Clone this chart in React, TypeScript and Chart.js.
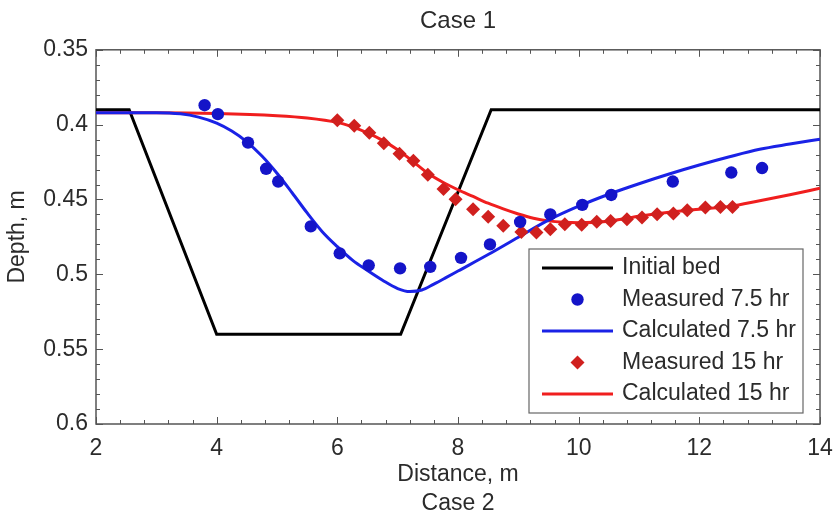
import React, { useEffect, useRef } from "react";
import { Chart, registerables } from "chart.js";

Chart.register(...registerables);

// ---------- data ----------
const bedDistance = [2, 2.55, 4, 7.05, 8.55, 14];
const bedDepth = [0.39, 0.39, 0.54, 0.54, 0.39, 0.39];

const meas75Distance = [3.8, 4.02, 4.52, 4.82, 5.02, 5.56, 6.04, 6.52, 7.04, 7.54, 8.05, 8.53, 9.03, 9.53, 10.06, 10.54, 11.56, 12.53, 13.04];
const meas75Depth = [0.387, 0.393, 0.412, 0.4295, 0.438, 0.468, 0.486, 0.494, 0.496, 0.495, 0.489, 0.48, 0.465, 0.46, 0.4536, 0.447, 0.438, 0.432, 0.429];

const calc75Distance = [2, 3, 3.4, 3.7, 4, 4.25, 4.5, 4.75, 5, 5.25, 5.5, 5.75, 6, 6.25, 6.5, 6.75, 7, 7.2, 7.4, 7.6, 7.8, 8, 8.5, 9, 9.5, 10, 10.5, 11, 11.5, 12, 12.5, 13, 13.5, 14];
const calc75Depth = [0.392, 0.392, 0.3928, 0.395, 0.399, 0.4043, 0.4115, 0.421, 0.4325, 0.4455, 0.459, 0.4715, 0.4815, 0.4905, 0.4975, 0.504, 0.5095, 0.5115, 0.5105, 0.5065, 0.5022, 0.4978, 0.4868, 0.4752, 0.4638, 0.4545, 0.4465, 0.4395, 0.433, 0.427, 0.4215, 0.4165, 0.413, 0.4097];

const meas15Distance = [6.0, 6.28, 6.53, 6.77, 7.03, 7.26, 7.5, 7.76, 7.96, 8.25, 8.5, 8.75, 9.05, 9.3, 9.53, 9.77, 10.05, 10.3, 10.53, 10.8, 11.05, 11.3, 11.57, 11.8, 12.1, 12.35, 12.55];
const meas15Depth = [0.397, 0.4008, 0.4055, 0.4125, 0.4195, 0.4242, 0.4335, 0.443, 0.4498, 0.4565, 0.4616, 0.4676, 0.4718, 0.4721, 0.4699, 0.4665, 0.4668, 0.4648, 0.4643, 0.4632, 0.462, 0.4598, 0.4594, 0.4572, 0.4554, 0.455, 0.455];

const calc15Distance = [2, 3, 4, 5, 5.5, 6, 6.25, 6.5, 6.75, 7, 7.25, 7.5, 7.75, 8, 8.25, 8.5, 8.75, 9, 9.25, 9.5, 9.75, 10, 10.5, 11, 11.5, 12, 12.5, 13, 13.5, 14];
const calc15Depth = [0.392, 0.392, 0.3925, 0.394, 0.3955, 0.3985, 0.4015, 0.4055, 0.4105, 0.4168, 0.4245, 0.4325, 0.4385, 0.4435, 0.448, 0.4525, 0.4563, 0.4597, 0.4625, 0.4643, 0.4652, 0.4655, 0.4645, 0.4612, 0.4585, 0.4565, 0.4546, 0.4508, 0.4468, 0.4425];

const seriesLabels = ["Initial bed", "Measured 7.5 hr", "Calculated 7.5 hr", "Measured 15 hr", "Calculated 15 hr"];
const chartTitle = "Case 1";
const xTitle = ["Distance, m", "Case 2"];
const yTitle = "Depth, m";

const xMin = 2, xMax = 14, xStep = 2, xMinor = 0.4;
const yMin = 0.35, yMax = 0.6, yStep = 0.05, yMinor = 0.01;

// ---------- styles ----------
const FONT = "'Liberation Sans', Arial, Helvetica, sans-serif";
const TEXT = "#2b2b2b";
const AXIS = "#555555";

const pts = (xs: number[], ys: number[]) => xs.map((x, i) => ({ x, y: ys[i] }));

const frameTicks = {
  id: "frameTicks",
  beforeDatasetsDraw(chart: any) {
    const { ctx, chartArea: a, scales } = chart;
    const x = scales.x, y = scales.y;
    ctx.save();
    ctx.strokeStyle = AXIS;
    ctx.lineWidth = 1;
    const nx = Math.round((xMax - xMin) / xMinor);
    const perX = Math.round(xStep / xMinor);
    for (let i = 0; i <= nx; i++) {
      const px = Math.round(x.getPixelForValue(xMin + i * xMinor)) + 0.5;
      const len = i % perX === 0 ? 7 : 4;
      ctx.beginPath();
      ctx.moveTo(px, a.bottom); ctx.lineTo(px, a.bottom - len);
      ctx.moveTo(px, a.top); ctx.lineTo(px, a.top + len);
      ctx.stroke();
    }
    const ny = Math.round((yMax - yMin) / yMinor);
    const perY = Math.round(yStep / yMinor);
    for (let i = 0; i <= ny; i++) {
      const py = Math.round(y.getPixelForValue(yMin + i * yMinor)) + 0.5;
      const len = i % perY === 0 ? 7 : 4;
      ctx.beginPath();
      ctx.moveTo(a.left, py); ctx.lineTo(a.left + len, py);
      ctx.moveTo(a.right, py); ctx.lineTo(a.right - len, py);
      ctx.stroke();
    }
    ctx.lineWidth = 1.5;
    ctx.strokeRect(a.left, a.top, a.right - a.left, a.bottom - a.top);
    ctx.restore();
  },
};

const boxLegend = {
  id: "boxLegend",
  afterDraw(chart: any) {
    const { ctx, chartArea: a } = chart;
    const w = 274, h = 164;
    const right = a.right - 17, bottom = a.bottom - 11;
    const left = right - w, top = bottom - h;
    ctx.save();
    ctx.fillStyle = "#ffffff";
    ctx.fillRect(left, top, w, h);
    ctx.strokeStyle = "#666666";
    ctx.lineWidth = 1.2;
    ctx.strokeRect(left, top, w, h);
    const rowH = 31.5;
    ctx.font = `23px ${FONT}`;
    ctx.textBaseline = "middle";
    ctx.textAlign = "left";
    chart.data.datasets.forEach((ds: any, i: number) => {
      const cy = top + 19 + i * rowH;
      const x0 = left + 13, x1 = left + 84;
      if (ds.showLine !== false) {
        ctx.strokeStyle = ds.borderColor;
        ctx.lineWidth = ds.borderWidth;
        ctx.beginPath();
        ctx.moveTo(x0, cy); ctx.lineTo(x1, cy);
        ctx.stroke();
      } else {
        const cx = (x0 + x1) / 2;
        ctx.fillStyle = ds.backgroundColor;
        ctx.beginPath();
        if (ds.pointStyle === "rectRot") {
          const r = ds.pointRadius;
          ctx.moveTo(cx, cy - r); ctx.lineTo(cx + r, cy); ctx.lineTo(cx, cy + r); ctx.lineTo(cx - r, cy);
          ctx.closePath();
        } else {
          ctx.arc(cx, cy, ds.pointRadius, 0, Math.PI * 2);
        }
        ctx.fill();
      }
      ctx.fillStyle = TEXT;
      ctx.fillText(ds.label, left + 93, cy);
    });
    ctx.restore();
  },
};

export default function App() {
  const ref = useRef<HTMLCanvasElement | null>(null);
  useEffect(() => {
    if (!ref.current) return;
    const chart = new Chart(ref.current, {
      type: "scatter",
      data: {
        datasets: [
          {
            label: seriesLabels[0], data: pts(bedDistance, bedDepth), showLine: true,
            borderColor: "#000000", backgroundColor: "#000000", borderWidth: 3, pointRadius: 0, tension: 0, order: 5,
          },
          {
            label: seriesLabels[1], data: pts(meas75Distance, meas75Depth), showLine: false,
            borderColor: "#1414c8", backgroundColor: "#1414c8", pointStyle: "circle", pointRadius: 6.2, borderWidth: 0, order: 1,
          },
          {
            label: seriesLabels[2], data: pts(calc75Distance, calc75Depth), showLine: true,
            borderColor: "#1a22e6", backgroundColor: "#1a22e6", borderWidth: 3, pointRadius: 0, cubicInterpolationMode: "monotone", order: 3,
          },
          {
            label: seriesLabels[3], data: pts(meas15Distance, meas15Depth), showLine: false,
            borderColor: "#d0201e", backgroundColor: "#d0201e", pointStyle: "rectRot", pointRadius: 7, borderWidth: 0, order: 2,
          },
          {
            label: seriesLabels[4], data: pts(calc15Distance, calc15Depth), showLine: true,
            borderColor: "#f01e1e", backgroundColor: "#f01e1e", borderWidth: 3, pointRadius: 0, cubicInterpolationMode: "monotone", order: 4,
          },
        ],
      },
      options: {
        animation: false,
        responsive: true,
        maintainAspectRatio: false,
        layout: { padding: { left: 0, right: 17, top: 0, bottom: 0 } },
        plugins: {
          legend: { display: false },
          tooltip: { enabled: false },
          title: {
            display: true, text: chartTitle, fullSize: false, color: TEXT,
            font: { family: FONT, size: 24, weight: "normal", lineHeight: 1.2 },
            padding: { top: 7, bottom: 14 },
          },
        },
        scales: {
          x: {
            type: "linear", min: xMin, max: xMax,
            grid: { display: false, drawTicks: false },
            border: { display: false },
            ticks: { stepSize: xStep, color: TEXT, padding: 11, font: { family: FONT, size: 23 }, maxRotation: 0 },
            title: {
              display: true, text: xTitle, color: TEXT,
              font: { family: FONT, size: 23, lineHeight: 1.25 },
              padding: { top: 0, bottom: -6 },
            },
            afterFit: (s: any) => { s.height = 88; s.paddingLeft = 0; s.paddingRight = 0; },
          },
          y: {
            type: "linear", min: yMin, max: yMax, reverse: true,
            grid: { display: false, drawTicks: false },
            border: { display: false },
            ticks: {
              stepSize: yStep, color: TEXT, padding: 8, font: { family: FONT, size: 23 },
              callback: (v: any) => String(parseFloat(Number(v).toFixed(2))),
            },
            title: {
              display: true, text: yTitle, color: TEXT,
              font: { family: FONT, size: 23, lineHeight: 1.2 },
              padding: { top: 4, bottom: 0 },
            },
            afterFit: (s: any) => { s.width = 96; },
          },
        },
      },
      plugins: [frameTicks, boxLegend],
    });
    return () => chart.destroy();
  }, []);
  return (
    <div style={{ position: "fixed", left: 0, top: 0, width: 837, height: 512, background: "#fff" }}>
      <canvas ref={ref} />
    </div>
  );
}
